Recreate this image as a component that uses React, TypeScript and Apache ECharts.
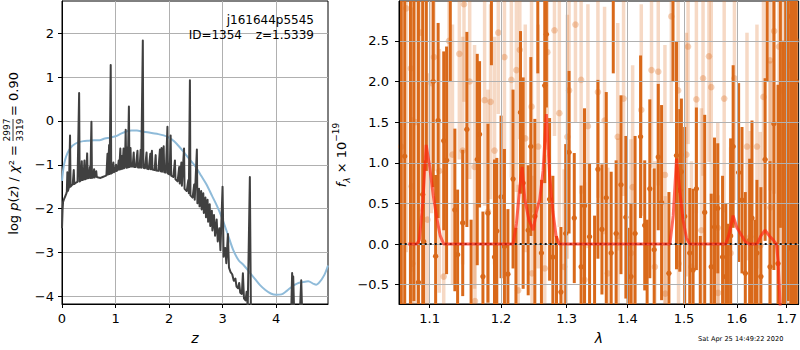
import React, { useEffect, useRef } from 'react';
import * as echarts from 'echarts';

// ---------- Left panel: log p(z) ----------
const zTicks = [0, 1, 2, 3, 4];
const pzTicks = [-4, -3, -2, -1, 0, 1, 2];

const pzCurve: [number, number][] = [
  [0.00,-2.45],[0.01,-2.05],[0.02,-1.85],[0.04,-1.78],[0.06,-1.72],[0.08,-1.66],[0.09,-1.62],[0.10,-1.17],[0.11,-1.6],[0.13,-1.52],
  [0.15,-0.33],[0.16,-1.5],[0.18,-1.47],[0.20,-1.45],[0.22,-1.12],[0.23,-1.44],[0.26,-1.41],[0.29,-1.39],[0.32,0.64],[0.33,-1.38],
  [0.35,-1.36],[0.37,-0.92],[0.38,-1.35],[0.40,-1.34],[0.42,-0.9],[0.43,-1.33],[0.45,-1.32],[0.47,-0.74],[0.48,-1.31],[0.50,-1.3],
  [0.52,-1.05],[0.53,-1.3],[0.55,-0.02],[0.56,-1.3],[0.58,-1.29],[0.60,-1.1],[0.61,-1.29],[0.64,-1.15],[0.65,-1.28],[0.68,-1.29],
  [0.72,-1.3],[0.76,-1.28],[0.80,-1.26],[0.83,-1.24],[0.85,-0.75],[0.86,-1.22],[0.88,-0.55],[0.89,-1.21],[0.91,1.28],[0.92,-1.2],
  [0.94,-1.18],[0.96,-0.95],[0.97,-1.17],[0.99,-1.15],[1.01,-1.0],[1.02,-1.14],[1.04,-1.12],[1.06,-0.9],[1.07,-1.11],[1.09,-0.63],
  [1.10,-1.1],[1.12,-0.8],[1.13,-1.09],[1.15,-0.63],[1.16,-1.08],[1.18,-0.8],[1.19,-0.2],[1.20,-1.07],[1.22,-0.6],[1.23,-1.06],
  [1.25,0.33],[1.26,-1.05],[1.28,-0.62],[1.29,-1.04],[1.32,-1.04],[1.34,-0.72],[1.35,-1.05],[1.38,-1.05],
  [1.41,-0.68],[1.42,-1.06],[1.45,-1.06],[1.47,-0.66],[1.48,-1.07],[1.51,1.84],[1.52,-1.07],[1.55,-1.08],
  [1.58,-0.72],[1.59,-1.09],[1.62,-1.1],[1.65,-0.75],[1.66,-1.1],[1.68,-0.68],[1.69,-1.11],[1.73,-1.12],
  [1.75,-0.78],[1.76,-1.13],[1.80,-1.14],[1.83,-0.65],[1.84,-1.15],[1.86,-0.62],[1.87,-1.16],[1.90,-0.58],[1.91,-1.17],
  [1.94,-1.18],[1.97,-0.13],[1.98,-1.2],[2.01,-1.22],[2.03,-0.33],[2.04,-1.25],[2.08,-1.28],
  [2.11,-0.9],[2.12,-1.33],[2.16,-1.38],[2.19,-1.05],[2.20,-1.43],[2.23,-0.95],[2.24,-1.48],[2.28,-0.63],[2.29,-1.55],
  [2.33,-1.6],[2.36,-1.35],[2.37,-1.65],[2.39,0.93],[2.40,-1.7],[2.44,-1.75],[2.47,-1.45],[2.48,-1.8],
  [2.52,-0.65],[2.53,-1.88],[2.56,-1.55],[2.57,-1.95],[2.60,-1.6],[2.61,-2.02],[2.64,-1.65],[2.65,-2.1],[2.68,-1.75],[2.69,-2.2],
  [2.72,-1.8],[2.73,-2.3],[2.76,-1.9],[2.77,-2.4],[2.80,-2.05],[2.81,-2.5],[2.84,-2.15],[2.86,-2.62],[2.89,-2.25],[2.91,-2.75],
  [2.94,-2.45],[2.96,-2.95],[3.00,-1.5],[3.02,-3.1],[3.05,-2.9],[3.07,-3.25],[3.10,-2.58],[3.12,-3.35],[3.15,-3.45],[3.18,-3.5],
  [3.21,-3.65],[3.24,-3.6],[3.26,-3.78],[3.29,-3.82],[3.31,-3.7],[3.33,-3.92],[3.36,-3.95],[3.38,-3.48],[3.40,-4.05],[3.43,-4.1],
  [3.45,-3.9],[3.47,-4.25],[3.51,-1.28],[3.53,-4.4],[3.60,-4.6],[3.90,-4.8],[4.20,-4.7],[4.28,-4.5],[4.30,-3.47],[4.31,-4.3],
  [4.32,-3.55],[4.34,-4.5],[4.44,-4.5],[4.47,-3.64],[4.49,-4.5],[4.60,-4.8],[4.97,-5.0],
];

const templateCurve: [number, number][] = [
  [0,-1.37],[0.03,-1.05],[0.06,-0.88],[0.1,-0.74],[0.15,-0.63],[0.2,-0.56],[0.3,-0.49],[0.4,-0.46],[0.5,-0.45],[0.6,-0.44],
  [0.7,-0.44],[0.8,-0.4],[0.9,-0.38],[1.0,-0.35],[1.1,-0.29],[1.2,-0.24],[1.3,-0.22],[1.4,-0.22],[1.5,-0.24],[1.6,-0.26],
  [1.7,-0.28],[1.8,-0.3],[1.9,-0.33],[2.0,-0.38],[2.1,-0.47],[2.2,-0.6],[2.3,-0.75],[2.4,-0.9],[2.5,-1.05],[2.6,-1.25],
  [2.7,-1.45],[2.8,-1.7],[2.9,-1.95],[3.0,-2.25],[3.1,-2.6],[3.2,-2.95],[3.3,-3.18],[3.4,-3.3],[3.5,-3.45],[3.6,-3.6],
  [3.7,-3.75],[3.8,-3.86],[3.9,-3.94],[4.0,-3.97],[4.1,-3.96],[4.2,-3.88],[4.3,-3.78],[4.4,-3.71],[4.5,-3.68],[4.6,-3.66],
  [4.7,-3.72],[4.75,-3.74],[4.8,-3.7],[4.9,-3.52],[4.97,-3.3],
];

// ---------- Right panel: spectrum ----------
const lamTicks = [1.1, 1.2, 1.3, 1.4, 1.5, 1.6, 1.7];
const fluxTicks = [-0.5, 0, 0.5, 1, 1.5, 2, 2.5];

// [lambda, flux, error]
const specDark: [number, number, number][] = [
  [1.0625,3.2,4],[1.067,1.08,3.5],[1.0745,-1.0,4],[1.079,3.1,3.8],[1.085,-0.47,3.5],[1.0907,0.61,2.4],[1.092,0.03,1.0],[1.0955,3.3,2.4],
  [1.1048,2.0,1.3],[1.108,-0.15,1.0],[1.1114,1.52,1.2],[1.119,1.27,1.1],[1.1229,1.03,1.4],[1.128,3.1,1.1],[1.1343,0.42,1.0],[1.1381,-0.13,0.8],
  [1.1452,0.26,0.9],[1.151,1.41,1.2],[1.157,-0.9,1.2],[1.1657,1.04,1.3],[1.169,1.35,0.9],[1.1738,-0.4,0.8],[1.181,0.38,1.1],[1.186,3.2,1.0],
  [1.1905,-0.16,1.2],[1.1938,0.16,0.9],[1.2,0.58,1.0],[1.205,-0.03,1.2],[1.2101,-0.37,0.8],[1.2177,0.8,1.1],[1.222,-0.9,1.1],[1.2288,1.62,1.0],
  [1.2328,0.75,1.3],[1.2404,0.17,0.8],[1.2444,1.2,1.1],[1.2505,0.34,1.2],[1.255,3.1,1.0],[1.2606,-0.11,0.9],[1.2657,1.95,1.2],[1.2682,2.58,0.9],
  [1.2732,0.55,1.0],[1.2783,-0.16,1.0],[1.284,-0.9,1.0],[1.2909,-0.59,0.8],[1.2985,0.13,1.1],[1.3038,1.13,1.0],[1.3121,0.32,0.8],
  [1.3231,-0.28,1.0],[1.3286,0.47,1.2],[1.3368,0.09,0.9],[1.345,-0.85,1.2],[1.3505,0.92,1.1],[1.3571,0.18,0.8],[1.3643,0.57,1.3],[1.3725,-0.11,1.0],
  [1.376,3.0,0.9],[1.3808,0.13,0.9],[1.389,0.73,1.1],[1.3973,0.33,1.0],[1.401,-0.8,1.0],[1.406,-0.4,0.9],[1.4131,0.13,1.2],[1.4226,1.32,1.0],
  [1.4298,0.23,0.8],[1.434,-0.9,1.2],[1.4387,0.68,1.1],[1.4464,-0.07,1.0],[1.4536,1.07,0.9],[1.4595,0.51,1.2],[1.4726,-0.36,1.0],
  [1.48,3.2,1.2],[1.4863,1.09,1.4],[1.4923,0.66,1.0],[1.4952,0.89,0.9],[1.5012,0.34,1.1],[1.5105,-0.11,0.8],[1.5167,-0.32,1.0],[1.5228,0.68,1.0],
  [1.53,-0.9,1.0],[1.5383,0.39,1.2],[1.5506,-0.28,0.9],[1.5568,0.21,1.1],[1.563,0.44,0.8],[1.5722,-0.16,1.0],[1.5784,-0.4,0.9],
  [1.582,-0.85,1.1],[1.5877,0.1,1.2],[1.5926,1.2,1.0],[1.6033,0.88,1.1],[1.6099,0.54,0.9],[1.6164,-0.36,1.0],[1.625,0.05,1.0],
  [1.6296,0.32,1.2],[1.636,-0.9,1.2],[1.6395,-0.11,0.9],[1.6474,-0.4,1.1],[1.6559,1.04,1.0],[1.66,3.0,1.0],[1.6658,-0.28,1.3],[1.6737,1.48,1.8],
  [1.6822,-0.24,2.2],[1.687,3.2,3.0],[1.693,-1.0,3.5],[1.698,1.0,3.5],[1.703,2.8,3.5],[1.7087,-0.05,3.5],[1.714,0.5,4],[1.7165,-0.06,4],[1.72,2.0,4],
];

const specLight: [number, number, number][] = [
  [1.0625,1.2,3.5],[1.069,2.9,3],[1.075,2.16,2.5],[1.076,0.71,2.2],[1.077,-0.24,1.8],[1.081,1.5,2.5],[1.088,2.6,2.2],[1.097,0.3,1.8],
  [1.1024,1.98,1.6],[1.1057,2.30,1.4],[1.113,0.9,1.5],[1.119,-0.4,1.3],[1.1262,2.5,1.5],[1.131,1.1,1.6],[1.1405,2.34,1.3],[1.1452,1.15,1.4],
  [1.147,2.95,1.2],[1.155,2.0,1.2],[1.1619,0.95,1.5],[1.1625,-0.7,1.2],[1.1762,1.77,1.3],[1.181,0.4,1.5],[1.1848,1.75,1.2],[1.1905,1.15,1.4],
  [1.196,2.6,1.0],[1.205,2.3,1.3],[1.2152,2.02,1.2],[1.2227,2.14,1.5],[1.2253,-0.57,1.3],[1.2278,2.39,1.1],[1.236,1.3,1.4],[1.2455,1.69,1.3],
  [1.2462,-0.36,1.2],[1.2556,1.2,1.5],[1.2657,-0.3,1.4],[1.2697,2.36,1.2],[1.2808,2.63,1.3],[1.2884,1.61,1.4],[1.296,-0.28,1.2],[1.3011,1.32,1.5],
  [1.3038,1.89,1.1],[1.314,2.7,1.2],[1.3231,2.02,1.4],[1.3286,-0.44,1.2],[1.3341,1.45,1.5],[1.3505,1.87,1.3],[1.3615,1.52,1.4],[1.367,-0.36,1.3],
  [1.3835,1.32,1.4],[1.3842,0.1,1.2],[1.3934,1.79,1.2],[1.406,-0.11,1.4],[1.4089,0.7,1.5],[1.4238,1.65,1.3],[1.4417,2.14,1.2],[1.4476,-0.28,1.3],
  [1.4536,2.12,1.4],[1.4655,0.85,1.6],[1.4662,-0.61,1.2],[1.477,2.8,1.3],[1.4893,1.89,1.4],[1.4900,-0.24,1.3],[1.5043,1.1,1.5],[1.5074,2.43,1.2],
  [1.5136,-0.28,1.3],[1.5228,1.78,1.4],[1.5321,0.17,1.5],[1.5352,2.04,1.2],[1.5463,2.31,1.3],[1.5506,1.93,1.4],[1.563,0.2,1.3],[1.5637,-0.6,1.2],
  [1.5753,1.79,1.4],[1.5877,-0.11,1.3],[1.5951,2.04,1.5],[1.6197,1.2,1.4],[1.6263,0.09,1.3],[1.6395,1.2,1.5],[1.6461,-0.02,1.4],[1.6526,1.81,1.3],
  [1.6658,2.26,1.6],[1.6665,0.45,1.8],[1.6743,2.62,2.0],[1.6842,2.43,2.4],[1.6901,1.89,2.8],[1.697,0.8,3.2],[1.705,2.2,3.5],[1.712,1.0,3.8],[1.72,2.5,4],
];

const modelCurve: [number, number][] = [
  [1.0715,0],[1.0827,0],[1.0862,0.05],[1.0907,0.5],[1.0953,1.22],[1.1,0.95],[1.1048,0.6],[1.1095,0.32],[1.1143,0.1],[1.119,0],
  [1.2177,0],[1.2227,0.25],[1.2278,0.7],[1.2313,0.95],[1.2354,0.55],[1.2414,0.3],[1.248,0.17],[1.253,0.4],[1.258,0.55],[1.2631,0.9],
  [1.2682,1.6],[1.2732,0.85],[1.2783,0.4],[1.2833,0.1],[1.2884,0],
  [1.4744,0],[1.4804,0.35],[1.4863,1.05],[1.4923,0.65],[1.4982,0.3],[1.5043,0.08],[1.5105,0],
  [1.5784,0],[1.5846,0.12],[1.5926,0.35],[1.6,0.2],[1.6079,0.12],[1.6164,0.03],[1.625,0],
  [1.6395,0],[1.6474,0.1],[1.6559,0.17],[1.6645,0.1],[1.6737,0.04],[1.679,0],[1.6822,-0.2],[1.6869,-0.8],
];

const zeroLine: [number, number][] = [[1.0605, 0], [1.722, 0]];

const FONT = 'DejaVu Sans';
const DARK_ORANGE = '#d9691a';
const LIGHT_BAR = 'rgba(222,110,30,0.26)';
const LIGHT_DOT = 'rgba(222,110,30,0.32)';

const minusFmt = (s: string) => s.replace('-', '\u2212');

function errRender(barColor: string, dotColor: string, barW: number, r: number) {
  return (params: any, api: any) => {
    const x = api.value(0), y = api.value(1), e = api.value(2);
    const pT = api.coord([x, y + e]);
    const pB = api.coord([x, y - e]);
    const pC = api.coord([x, y]);
    const cs = params.coordSys;
    const top = Math.max(pT[1], cs.y);
    const bot = Math.min(pB[1], cs.y + cs.height);
    const children: any[] = [];
    if (bot > top) {
      children.push({ type: 'rect', shape: { x: pC[0] - barW / 2, y: top, width: barW, height: bot - top }, style: { fill: barColor } });
    }
    if (pC[1] >= cs.y && pC[1] <= cs.y + cs.height) {
      children.push({ type: 'circle', shape: { cx: pC[0], cy: pC[1], r }, style: { fill: dotColor } });
    }
    return { type: 'group', children };
  };
}

const axisCommon = {
  axisLine: { show: true, onZero: false, lineStyle: { color: '#000', width: 1 } },
  axisTick: { show: true, length: 4, lineStyle: { color: '#000', width: 1 } },
  splitLine: { show: true, lineStyle: { color: '#b0b0b0', width: 1 } },
};

const option: any = {
  animation: false,
  backgroundColor: '#fff',
  textStyle: { fontFamily: FONT },
  grid: [
    { left: 62, top: 1, width: 266, height: 303, show: true, borderColor: '#000', borderWidth: 1, backgroundColor: 'transparent' },
    { left: 399, top: 1, width: 400, height: 303, show: true, borderColor: '#000', borderWidth: 1, backgroundColor: 'transparent' },
  ],
  xAxis: [
    {
      type: 'value', gridIndex: 0, min: 0, max: 4.97,
      ...axisCommon,
      axisTick: { ...axisCommon.axisTick, customValues: zTicks },
      axisLabel: { customValues: zTicks, color: '#000', fontSize: 13, fontFamily: FONT, margin: 8, formatter: (v: number) => String(v) },
      name: 'z', nameLocation: 'middle', nameGap: 27,
      nameTextStyle: { fontStyle: 'italic', fontSize: 14, fontFamily: FONT, color: '#000' },
    },
    {
      type: 'value', gridIndex: 1, min: Math.log(1.0596), max: Math.log(1.725), z: 3,
      ...axisCommon,
      axisTick: { ...axisCommon.axisTick, customValues: lamTicks.map(Math.log) },
      axisLabel: { customValues: lamTicks.map(Math.log), color: '#000', fontSize: 13, fontFamily: FONT, margin: 8, formatter: (v: number) => Math.exp(v).toFixed(1) },
      name: 'λ', nameLocation: 'middle', nameGap: 27,
      nameTextStyle: { fontStyle: 'italic', fontSize: 14, fontFamily: FONT, color: '#000' },
    },
  ],
  yAxis: [
    {
      type: 'value', gridIndex: 0, min: -4.18, max: 2.74,
      ...axisCommon,
      axisTick: { ...axisCommon.axisTick, customValues: pzTicks },
      axisLabel: { customValues: pzTicks, color: '#000', fontSize: 13, fontFamily: FONT, margin: 8, formatter: (v: number) => minusFmt(String(v)) },
    },
    {
      type: 'value', gridIndex: 1, min: -0.737, max: 2.99, z: 3,
      ...axisCommon,
      axisTick: { ...axisCommon.axisTick, customValues: fluxTicks },
      axisLabel: { customValues: fluxTicks, color: '#000', fontSize: 13, fontFamily: FONT, margin: 10, formatter: (v: number) => minusFmt(v.toFixed(1)) },
    },
  ],
  series: [
    {
      type: 'line', xAxisIndex: 0, yAxisIndex: 0, data: templateCurve, showSymbol: false, smooth: 0.3,
      lineStyle: { color: '#8fbbd9', width: 2 }, z: 2,
    },
    {
      type: 'line', xAxisIndex: 0, yAxisIndex: 0, data: pzCurve, showSymbol: false,
      lineStyle: { color: '#404040', width: 2, join: 'round' }, z: 3,
    },
    {
      type: 'custom', xAxisIndex: 1, yAxisIndex: 1, renderItem: errRender(LIGHT_BAR, LIGHT_DOT, 3.5, 3.3),
      data: specLight.map(d => [Math.log(d[0]), d[1], d[2]]), encode: { x: 0, y: 1 }, z: 1,
    },
    {
      type: 'custom', xAxisIndex: 1, yAxisIndex: 1, renderItem: errRender(DARK_ORANGE, DARK_ORANGE, 3, 2.7),
      data: specDark.map(d => [Math.log(d[0]), d[1], d[2]]), encode: { x: 0, y: 1 }, z: 2,
    },
    {
      type: 'line', xAxisIndex: 1, yAxisIndex: 1, data: zeroLine.map(d => [Math.log(d[0]), d[1]]), showSymbol: false,
      lineStyle: { color: '#111', width: 2, type: [2, 3], cap: 'butt' }, z: 4,
    },
    {
      type: 'line', xAxisIndex: 1, yAxisIndex: 1, data: modelCurve.map(d => [Math.log(d[0]), d[1]]), showSymbol: false,
      lineStyle: { color: 'rgba(255,35,15,0.68)', width: 3 }, z: 5,
    },
  ],
  graphic: [
    {
      type: 'group', x: 13, y: 240, rotation: Math.PI / 2, children: [
        {
          type: 'text', x: 95, y: 0,
          style: {
            text: '{r|log }{i|p}{r|(}{i|z}{r|) / }{i|χ}{r|² =}',
            rich: {
              r: { fontSize: 13, fontFamily: FONT, fill: '#000' },
              i: { fontSize: 13, fontFamily: FONT, fontStyle: 'italic', fill: '#000' },
            },
            align: 'right', textAlign: 'right', verticalAlign: 'middle', textVerticalAlign: 'middle',
          },
        },
        { type: 'text', x: 110, y: -6, style: { text: '2997', fontSize: 9, fontFamily: FONT, fill: '#000', align: 'center', textAlign: 'center', verticalAlign: 'middle', textVerticalAlign: 'middle' } },
        { type: 'line', shape: { x1: 99, y1: 0, x2: 121, y2: 0 }, style: { stroke: '#000', lineWidth: 0.8 } },
        { type: 'text', x: 110, y: 6.5, style: { text: '3319', fontSize: 9, fontFamily: FONT, fill: '#000', align: 'center', textAlign: 'center', verticalAlign: 'middle', textVerticalAlign: 'middle' } },
        { type: 'text', x: 124, y: 0, style: { text: '= 0.90', fontSize: 13, fontFamily: FONT, fill: '#000', align: 'left', textAlign: 'left', verticalAlign: 'middle', textVerticalAlign: 'middle' } },
      ],
    },
    {
      type: 'group', x: 341, y: 155, rotation: Math.PI / 2, children: [
        {
          type: 'text', x: 0, y: 0,
          style: {
            text: '{i|f}{sub|λ}{r| × 10}{sup|−19}',
            rich: {
              r: { fontSize: 13, fontFamily: FONT, fill: '#000', lineHeight: 20, verticalAlign: 'middle' },
              i: { fontSize: 13, fontFamily: FONT, fontStyle: 'italic', fill: '#000', lineHeight: 20, verticalAlign: 'middle' },
              sub: { fontSize: 9, fontFamily: FONT, fontStyle: 'italic', fill: '#000', lineHeight: 9, verticalAlign: 'bottom' },
              sup: { fontSize: 9, fontFamily: FONT, fill: '#000', lineHeight: 9, verticalAlign: 'top' },
            },
            align: 'center', textAlign: 'center', verticalAlign: 'middle', textVerticalAlign: 'middle',
          },
        },
      ],
    },
    { type: 'text', x: 314, y: 20, style: { text: 'j161644p5545', fontSize: 12, fontFamily: FONT, fill: '#000', align: 'right', textAlign: 'right', verticalAlign: 'middle', textVerticalAlign: 'middle' }, z: 10 },
    { type: 'text', x: 242, y: 34.5, style: { text: 'ID=1354', fontSize: 12, fontFamily: FONT, fill: '#000', align: 'right', textAlign: 'right', verticalAlign: 'middle', textVerticalAlign: 'middle' }, z: 10 },
    { type: 'text', x: 314, y: 34.5, style: { text: 'z=1.5339', fontSize: 12, fontFamily: FONT, fill: '#000', align: 'right', textAlign: 'right', verticalAlign: 'middle', textVerticalAlign: 'middle' }, z: 10 },
    { type: 'text', x: 698, y: 339, style: { text: 'Sat Apr 25 14:49:22 2020', fontSize: 6.6, fontFamily: FONT, fill: '#000', align: 'left', textAlign: 'left', verticalAlign: 'middle', textVerticalAlign: 'middle' }, z: 10 },
  ],
};

export default function App() {
  const ref = useRef<HTMLDivElement>(null);
  useEffect(() => {
    const chart = echarts.init(ref.current!, null, { renderer: 'svg' });
    chart.setOption(option);
    return () => chart.dispose();
  }, []);
  return <div ref={ref} style={{ position: 'absolute', left: 0, top: 0, width: 800, height: 350 }} />;
}
